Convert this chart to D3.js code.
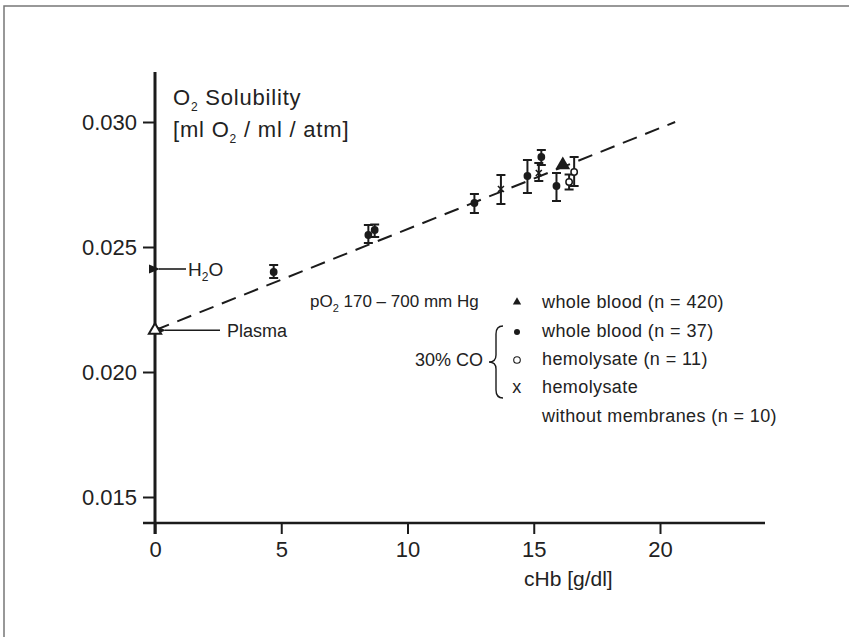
<!DOCTYPE html>
<html>
<head>
<meta charset="utf-8">
<script src="https://cdn.jsdelivr.net/npm/d3@7"></script>
<style>
  body { margin: 0; background: #fff; }
  svg text { font-family: "Liberation Sans", Arial, Helvetica, sans-serif; fill: #222; }
</style>
</head>
<body>
<svg id="chart" width="849" height="637"></svg>
<script>
// whole blood, 30% CO (filled circles)
var wbX  = [4.7, 8.45, 8.7, 12.65, 14.75, 15.3, 15.9];
var wbY  = [0.0240, 0.02548, 0.02568, 0.02676, 0.02784, 0.0286, 0.02744];
var wbLo = [0.02376, 0.02516, 0.0254, 0.02636, 0.02716, 0.02828, 0.02684];
var wbHi = [0.02428, 0.02588, 0.0259, 0.02712, 0.02848, 0.02888, 0.02796];
// hemolysate (open circles)
var hemX  = [16.4, 16.6];
var hemY  = [0.0276, 0.0280];
var hemLo = [0.0273, 0.02744];
var hemHi = [0.0279, 0.0286];
// hemolysate without membranes (x)
var hwmX  = [13.7, 15.2];
var hwmY  = [0.02732, 0.02796];
var hwmLo = [0.02672, 0.02764];
var hwmHi = [0.02788, 0.02836];
// whole blood n = 420 (triangle)
var bigX = [16.15];
var bigY = [0.02828];
// reference values
var plasmaY = 0.02167;
var h2oY = 0.02412;
var fitX = [0, 20.6];
var fitY = [0.02167, 0.0300];

var xTicks = [0, 5, 10, 15, 20];
var yTicks = [0.015, 0.020, 0.025, 0.030];

var svg = d3.select("#chart");
var ink = "#1b1b1b";

var x = d3.scaleLinear().domain([0, 20]).range([155, 660]);
var y = d3.scaleLinear().domain([0.015, 0.030]).range([497, 122]);
var xAxisY = 523;

// frame
svg.append("path")
  .attr("d", "M4,637 L4,6 L849,6")
  .attr("fill", "none").attr("stroke", "#777").attr("stroke-width", 1.5);

// y axis
var gy = svg.append("g")
  .attr("transform", "translate(" + x(0) + ",0)")
  .call(d3.axisLeft(y).tickValues(yTicks).tickFormat(d3.format(".3f")).tickSize(12).tickPadding(6));
gy.select(".domain").remove();
gy.selectAll("line").attr("stroke", ink).attr("stroke-width", 2);
gy.selectAll("text").style("font-size", "22px").attr("fill", "#222");

svg.append("line")
  .attr("x1", x(0)).attr("x2", x(0))
  .attr("y1", 72).attr("y2", xAxisY + 11)
  .attr("stroke", ink).attr("stroke-width", 3);

// x axis
var gx = svg.append("g")
  .attr("transform", "translate(0," + xAxisY + ")")
  .call(d3.axisBottom(x).tickValues(xTicks).tickSize(11).tickPadding(7));
gx.select(".domain").remove();
gx.selectAll("line").attr("stroke", ink).attr("stroke-width", 2);
gx.selectAll("text").style("font-size", "22px").attr("fill", "#222");

svg.append("line")
  .attr("x1", 143).attr("x2", 765)
  .attr("y1", xAxisY).attr("y2", xAxisY)
  .attr("stroke", ink).attr("stroke-width", 2.5);

svg.append("text")
  .attr("x", 524).attr("y", 586)
  .style("font-size", "21px")
  .text("cHb [g/dl]");

// y title
var t1 = svg.append("text").attr("x", 173).attr("y", 105)
  .style("font-size", "22px").style("letter-spacing", "0.8px");
t1.append("tspan").text("O");
t1.append("tspan").attr("dy", 6).style("font-size", "12px").text("2");
t1.append("tspan").attr("dy", -6).text(" Solubility");
var t2 = svg.append("text").attr("x", 173).attr("y", 137)
  .style("font-size", "22px").style("letter-spacing", "0.8px");
t2.append("tspan").text("[ml O");
t2.append("tspan").attr("dy", 6).style("font-size", "12px").text("2");
t2.append("tspan").attr("dy", -6).text(" / ml / atm]");

// regression line
svg.append("path")
  .datum(d3.zip(fitX, fitY))
  .attr("d", d3.line().x(function(d) { return x(d[0]); }).y(function(d) { return y(d[1]); }))
  .attr("fill", "none").attr("stroke", ink)
  .attr("stroke-width", 2).attr("stroke-dasharray", "15,9");

// arrows
svg.append("defs").append("marker")
  .attr("id", "arr").attr("viewBox", "0 0 10 10")
  .attr("refX", 1).attr("refY", 5)
  .attr("markerWidth", 7).attr("markerHeight", 7)
  .attr("orient", "auto")
  .append("path").attr("d", "M10,1 L0,5 L10,9 Z").attr("fill", ink);

svg.append("line")
  .attr("x1", x(0) + 31).attr("x2", x(0) + 4)
  .attr("y1", y(h2oY)).attr("y2", y(h2oY))
  .attr("stroke", ink).attr("stroke-width", 1.6)
  .attr("marker-end", "url(#arr)");
var th = svg.append("text").attr("x", x(0) + 33).attr("y", y(h2oY) + 7).style("font-size", "19px");
th.append("tspan").text("H");
th.append("tspan").attr("dy", 5).style("font-size", "12px").text("2");
th.append("tspan").attr("dy", -5).text("O");

svg.append("line")
  .attr("x1", x(0) + 65).attr("x2", x(0) + 10)
  .attr("y1", y(plasmaY)).attr("y2", y(plasmaY))
  .attr("stroke", ink).attr("stroke-width", 1.6)
  .attr("marker-end", "url(#arr)");
svg.append("text").attr("x", x(0) + 72).attr("y", y(plasmaY) + 7)
  .style("font-size", "18px").text("Plasma");

svg.append("path")
  .attr("transform", "translate(" + x(0) + "," + y(plasmaY) + ")")
  .attr("d", d3.symbol().type(d3.symbolTriangle).size(65)())
  .attr("fill", "#fff").attr("stroke", ink).attr("stroke-width", 2);

// error bars
function errBars(xs, lo, hi) {
  var g = svg.append("g").attr("stroke", ink).attr("stroke-width", 2);
  xs.forEach(function(v, i) {
    g.append("line").attr("x1", x(v)).attr("x2", x(v)).attr("y1", y(lo[i])).attr("y2", y(hi[i]));
    g.append("line").attr("x1", x(v) - 4.5).attr("x2", x(v) + 4.5).attr("y1", y(lo[i])).attr("y2", y(lo[i]));
    g.append("line").attr("x1", x(v) - 4.5).attr("x2", x(v) + 4.5).attr("y1", y(hi[i])).attr("y2", y(hi[i]));
  });
}
errBars(wbX, wbLo, wbHi);
errBars(hemX, hemLo, hemHi);
errBars(hwmX, hwmLo, hwmHi);

svg.append("g").selectAll("circle")
  .data(d3.zip(wbX, wbY)).enter().append("circle")
  .attr("cx", function(d) { return x(d[0]); })
  .attr("cy", function(d) { return y(d[1]); })
  .attr("r", 3.9).attr("fill", ink);

svg.append("g").selectAll("circle")
  .data(d3.zip(hemX, hemY)).enter().append("circle")
  .attr("cx", function(d) { return x(d[0]); })
  .attr("cy", function(d) { return y(d[1]); })
  .attr("r", 3.2).attr("fill", "#fff").attr("stroke", ink).attr("stroke-width", 1.5);

svg.append("g").selectAll("path")
  .data(d3.zip(hwmX, hwmY)).enter().append("path")
  .attr("d", function(d) {
    var cx = x(d[0]), cy = y(d[1]);
    return "M" + (cx - 3) + "," + (cy - 3) + "L" + (cx + 3) + "," + (cy + 3) +
           "M" + (cx - 3) + "," + (cy + 3) + "L" + (cx + 3) + "," + (cy - 3);
  })
  .attr("fill", "#fff").attr("stroke", ink).attr("stroke-width", 1.6);

svg.append("g").selectAll("path")
  .data(d3.zip(bigX, bigY)).enter().append("path")
  .attr("transform", function(d) { return "translate(" + x(d[0]) + "," + y(d[1]) + ")"; })
  .attr("d", d3.symbol().type(d3.symbolTriangle).size(95)())
  .attr("fill", ink);

// legend
var lx = 517, tx = 542;
var lg = svg.append("g").style("font-size", "18px").style("letter-spacing", "0.4px");

var tp = lg.append("text").attr("x", 310).attr("y", 307)
  .style("font-size", "17px").style("letter-spacing", "0px");
tp.append("tspan").text("pO");
tp.append("tspan").attr("dy", 5).style("font-size", "11px").text("2");
tp.append("tspan").attr("dy", -5).text(" 170 \u2013 700 mm Hg");

lg.append("path").attr("transform", "translate(" + lx + ",302)")
  .attr("d", d3.symbol().type(d3.symbolTriangle).size(30)()).attr("fill", ink);
lg.append("circle").attr("cx", lx).attr("cy", 332).attr("r", 3).attr("fill", ink);
lg.append("circle").attr("cx", lx).attr("cy", 360).attr("r", 3.3)
  .attr("fill", "#fff").attr("stroke", ink).attr("stroke-width", 1.1);
lg.append("text").attr("x", lx).attr("y", 393).attr("text-anchor", "middle").text("x");

lg.append("text").attr("x", tx).attr("y", 308).text("whole blood (n = 420)");
lg.append("text").attr("x", tx).attr("y", 337).text("whole blood (n = 37)");
lg.append("text").attr("x", tx).attr("y", 365).text("hemolysate (n = 11)");
lg.append("text").attr("x", tx).attr("y", 393).text("hemolysate");
lg.append("text").attr("x", tx).attr("y", 422).text("without membranes (n = 10)");

lg.append("text").attr("x", 483).attr("y", 366).attr("text-anchor", "end")
  .style("letter-spacing", "0px").text("30% CO");
lg.append("path")
  .attr("d", "M503,326 Q496,326 496,334 L496,355 Q496,362 489,362 Q496,362 496,369 L496,390 Q496,398 503,398")
  .attr("fill", "none").attr("stroke", ink).attr("stroke-width", 1.4);
</script>
</body>
</html>
